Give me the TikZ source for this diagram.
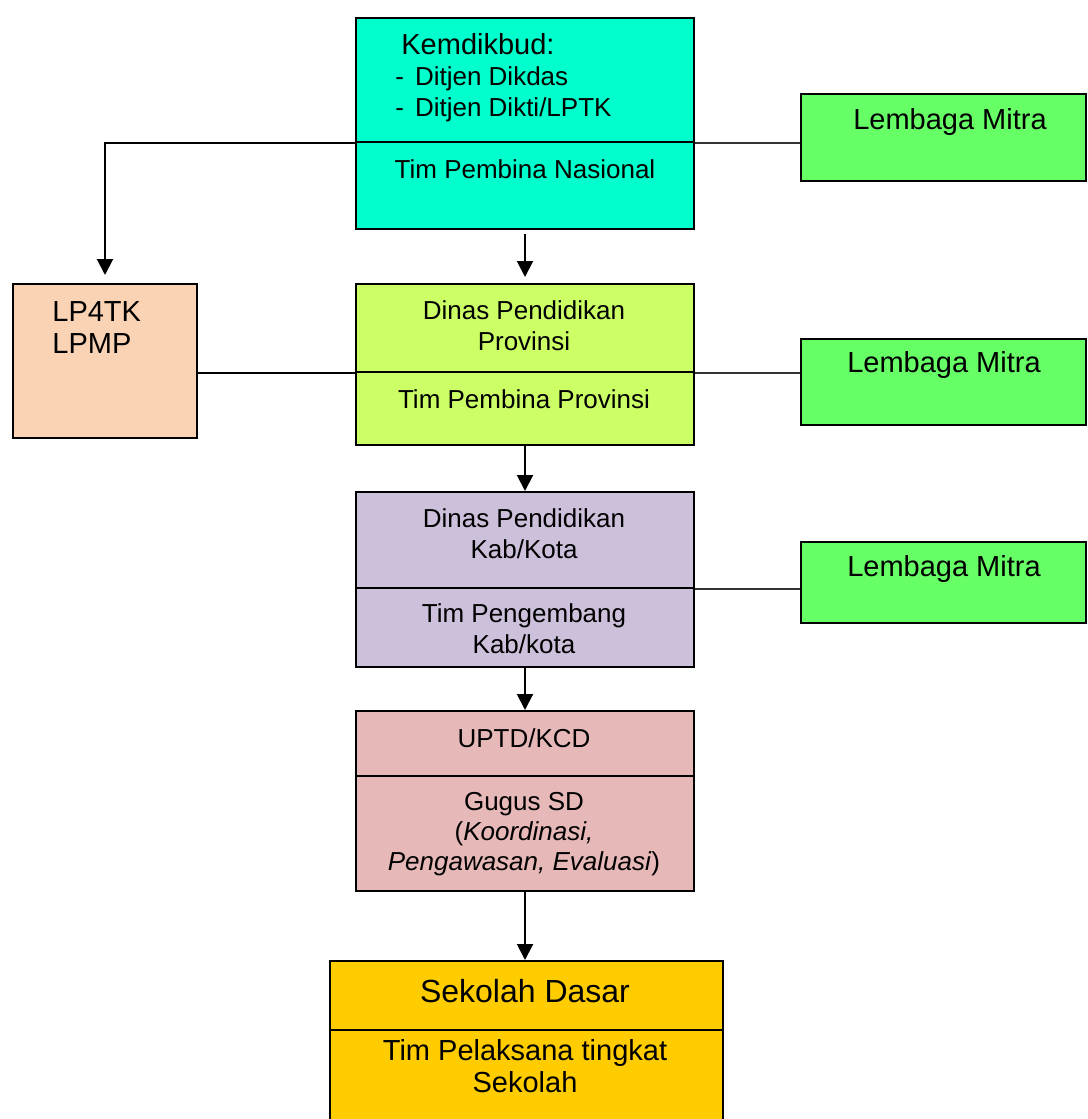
\documentclass[tikz,border=0pt]{standalone}
\usepackage{fontspec}
\setmainfont{Liberation Sans}
\usepackage{tikz}
\usetikzlibrary{arrows.meta}
\usepackage{xcolor}
\definecolor{nasional}{HTML}{00FFCC}
\definecolor{provinsi}{HTML}{CCFF66}
\definecolor{lpmp}{HTML}{FAD3B4}
\definecolor{kabkota}{HTML}{CCC0DA}
\definecolor{uptd}{HTML}{E6B8B7}
\definecolor{sekolah}{HTML}{FFCC00}
\definecolor{mitra}{HTML}{66FF66}

\begin{document}
\begin{tikzpicture}[x=0.5pt, y=-0.5pt, >={Triangle[width=8pt,length=8pt]},
    part/.style={draw, line width=1pt, anchor=north west, inner sep=0pt, minimum width=169pt},
    txt/.style={align=center, inner sep=0pt, font=\fontsize{13}{15.5}\selectfont},
    big/.style={font=\fontsize{14.5}{16}\selectfont},
    arrow/.style={->, line width=1pt},
    link/.style={line width=0.9pt, color=black!80}]
    \clip (0,0) rectangle (1087,1119);

    % Kemdikbud
    \node[part, fill=nasional, minimum height=62pt] (kemA) at (355,17) {};
    \node[part, fill=nasional, minimum height=43.5pt] (kemB) at (355,141) {};
    \node[txt, align=left, anchor=west] (kemT) at (395,78)
        {{\fontsize{14.5}{16}\selectfont\hspace*{3pt}Kemdikbud:}\\-\hspace{5.5pt}Ditjen Dikdas\\-\hspace{5.5pt}Ditjen Dikti/LPTK};
    \node[txt] (nasT) at (525,169) {Tim Pembina Nasional};

    % LP4TK / LPMP
    \node[part, fill=lpmp, minimum width=92pt, minimum height=77pt] (lpmp) at (12,283) {};
    \node[txt, big, align=left, anchor=west] (lpmpT) at (52,328) {LP4TK\\LPMP};

    % Provinsi
    \node[part, fill=provinsi, minimum height=44pt] (provA) at (355,283) {};
    \node[part, fill=provinsi, minimum height=36.5pt] (provB) at (355,371) {};
    \node[txt] (provT) at (524,326) {Dinas Pendidikan\\Provinsi};
    \node[txt] (provU) at (524,399) {Tim Pembina Provinsi};

    % Kab/Kota
    \node[part, fill=kabkota, minimum height=48pt] (kabA) at (355,491) {};
    \node[part, fill=kabkota, minimum height=39.5pt] (kabB) at (355,587) {};
    \node[txt] (kabT) at (524,534) {Dinas Pendidikan\\Kab/Kota};
    \node[txt] (kabU) at (524,629) {Tim Pengembang\\Kab/kota};

    % UPTD / Gugus
    \node[part, fill=uptd, minimum height=32.5pt] (uptdA) at (355,710) {};
    \node[part, fill=uptd, minimum height=57.5pt] (uptdB) at (355,775) {};
    \node[txt] (uptdT) at (524,738) {UPTD/KCD};
    \node[txt, font=\fontsize{13}{15}\selectfont] (uptdU) at (524,834)
        {Gugus SD\\(\textit{Koordinasi,}\\\textit{Pengawasan, Evaluasi})};

    % Sekolah Dasar
    \node[part, fill=sekolah, minimum width=196.5pt, minimum height=34.5pt] (sdA) at (329,960) {};
    \node[part, fill=sekolah, minimum width=196.5pt, minimum height=55pt] (sdB) at (329,1029) {};
    \node[txt, font=\fontsize{16}{18}\selectfont] (sdT) at (525,991) {Sekolah Dasar};
    \node[txt, big] (sdU) at (525,1066) {Tim Pelaksana tingkat\\Sekolah};

    % Lembaga Mitra
    \node[part, fill=mitra, minimum width=142.5pt, minimum height=43.5pt] (mitraA) at (800,93) {};
    \node[part, fill=mitra, minimum width=142.5pt, minimum height=43pt] (mitraB) at (800,338) {};
    \node[part, fill=mitra, minimum width=142.5pt, minimum height=40.5pt] (mitraC) at (800,541) {};
    \node[txt, big] (mitraAT) at (950,122) {Lembaga Mitra};
    \node[txt, big] (mitraBT) at (944,365) {Lembaga Mitra};
    \node[txt, big] (mitraCT) at (944,569) {Lembaga Mitra};

    % Arrows down the chain
    \draw[arrow, shorten >=3pt, shorten <=2pt] (kemB.south) -- (provA.north);
    \draw[arrow] (provB.south) -- (kabA.north);
    \draw[arrow] (kabB.south) -- (uptdA.north);
    \draw[arrow] (uptdB.south) -- (uptdB.south |- sdA.north);
    \draw[arrow, shorten >=4pt] (kemA.south west) -| (lpmp.north);

    % Links to side boxes
    \draw[line width=0.9pt] (provA.south west -| lpmp.east) -- (provA.south west);
    \draw[link] (kemA.south east) -- (kemA.south east -| mitraA.west);
    \draw[link] (provA.south east) -- (provA.south east -| mitraB.west);
    \draw[link] (kabA.south east) -- (kabA.south east -| mitraC.west);
\end{tikzpicture}
\end{document}
